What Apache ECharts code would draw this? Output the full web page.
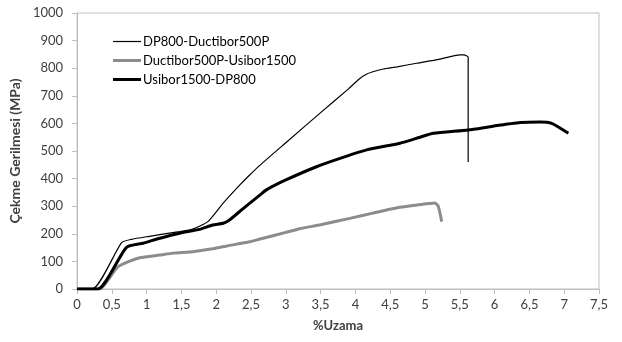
<!DOCTYPE html>
<html>
<head>
<meta charset="utf-8">
<script src="https://cdn.jsdelivr.net/npm/echarts@6/dist/echarts.min.js"></script>
<style>html,body{margin:0;padding:0;background:#fff}#c{width:622px;height:342px}</style>
</head>
<body>
<div id="c"></div>
<script>
var seriesNames = ['DP800-Ductibor500P', 'Ductibor500P-Usibor1500', 'Usibor1500-DP800'];

var dpX = [0, 0.22, 0.64, 0.78, 1.04, 1.47, 1.66, 1.88, 2.1, 2.34, 2.48, 2.63, 3.0, 3.5, 3.9, 4.05, 4.15, 4.25, 4.4, 4.6, 4.88, 5.2, 5.5, 5.56, 5.62, 5.62];
var dpY = [0, 0, 168, 180, 191, 208, 217, 244, 311, 377, 413, 449, 530, 639, 725, 760, 777, 787, 797, 805, 818, 832, 848, 848, 840, 460];

var duX = [0, 0.32, 0.59, 0.9, 1.19, 1.38, 1.66, 1.9, 2.15, 2.48, 2.63, 3.0, 3.2, 3.5, 3.92, 4.25, 4.64, 4.9, 5.14, 5.19, 5.24];
var duY = [0, 0, 81, 113, 123, 130, 135, 144, 156, 171, 181, 205, 218, 233, 256, 275, 296, 305, 312, 300, 244];

var usX = [0, 0.3, 0.71, 0.95, 1.19, 1.47, 1.76, 1.95, 2.1, 2.19, 2.39, 2.63, 2.72, 3.0, 3.44, 3.8, 4.16, 4.64, 4.93, 5.12, 5.62, 5.98, 6.37, 6.65, 6.82, 7.06];
var usY = [0, 0, 151, 166, 184, 202, 216, 232, 238, 250, 292, 341, 359, 395, 443, 475, 504, 528, 550, 564, 576, 590, 603, 605, 600, 564];

var xTicks = [0, 0.5, 1, 1.5, 2, 2.5, 3, 3.5, 4, 4.5, 5, 5.5, 6, 6.5, 7, 7.5];
var yTicks = [0, 100, 200, 300, 400, 500, 600, 700, 800, 900, 1000];

function zip(xs, ys) { return xs.map(function (x, i) { return [x, ys[i]]; }); }

var FONT = 'Lato';
var chart = echarts.init(document.getElementById('c'), null, {renderer: 'canvas'});
chart.setOption({
  animation: false,
  backgroundColor: '#fff',
  textStyle: {fontFamily: FONT},
  grid: {left: 77, right: 23, top: 13, bottom: 53, show: true, borderColor: '#bfbfbf', borderWidth: 1, containLabel: false},
  legend: {
    orient: 'vertical', left: 108, top: 30, itemWidth: 28, itemHeight: 14, itemGap: 6,
    symbolKeepAspect: true,
    textStyle: {fontFamily: FONT, fontSize: 13, color: '#000', padding: [0, 0, 0, -3]},
    data: [
      {name: seriesNames[0], icon: 'path://M0,0 H28 V1.2 H0 Z'},
      {name: seriesNames[1], icon: 'path://M0,0 H28 V3 H0 Z'},
      {name: seriesNames[2], icon: 'path://M0,0 H28 V3 H0 Z'}
    ]
  },
  xAxis: {
    type: 'value', min: 0, max: 7.5, interval: 0.5,
    name: '%Uzama', nameLocation: 'middle', nameGap: 30,
    nameTextStyle: {fontFamily: FONT, fontSize: 13, fontWeight: 'bold', color: '#404040'},
    axisLine: {show: true, lineStyle: {color: '#bfbfbf', width: 1}},
    axisTick: {show: true, length: 5, lineStyle: {color: '#bfbfbf'}},
    axisLabel: {fontFamily: FONT, fontSize: 13, color: '#404040', margin: 9,
      formatter: function (v) { return String(v).replace('.', ','); }},
    splitLine: {show: false}
  },
  yAxis: {
    type: 'value', min: 0, max: 1000, interval: 100,
    name: 'Çekme Gerilmesi (MPa)', nameLocation: 'middle', nameGap: 48, nameRotate: 90,
    nameTextStyle: {fontFamily: FONT, fontSize: 14, fontWeight: 'bold', color: '#404040'},
    axisLine: {show: true, lineStyle: {color: '#bfbfbf', width: 1}},
    axisTick: {show: true, length: 5, lineStyle: {color: '#bfbfbf'}},
    axisLabel: {fontFamily: FONT, fontSize: 13, color: '#404040', margin: 14,
      formatter: function (v) { return String(v); }},
    splitLine: {show: false}
  },
  series: [
    {name: seriesNames[0], type: 'line', showSymbol: false, symbol: 'none', smooth: 0.2, z: 3,
      data: zip(dpX, dpY), lineStyle: {color: '#000', width: 1.2}, itemStyle: {color: '#000'}},
    {name: seriesNames[1], type: 'line', showSymbol: false, symbol: 'none', smooth: 0.2, z: 2,
      data: zip(duX, duY), lineStyle: {color: '#8c8c8c', width: 3}, itemStyle: {color: '#8c8c8c'}},
    {name: seriesNames[2], type: 'line', showSymbol: false, symbol: 'none', smooth: 0.2, z: 2,
      data: zip(usX, usY), lineStyle: {color: '#000', width: 3}, itemStyle: {color: '#000'}}
  ]
});
</script>
</body>
</html>
